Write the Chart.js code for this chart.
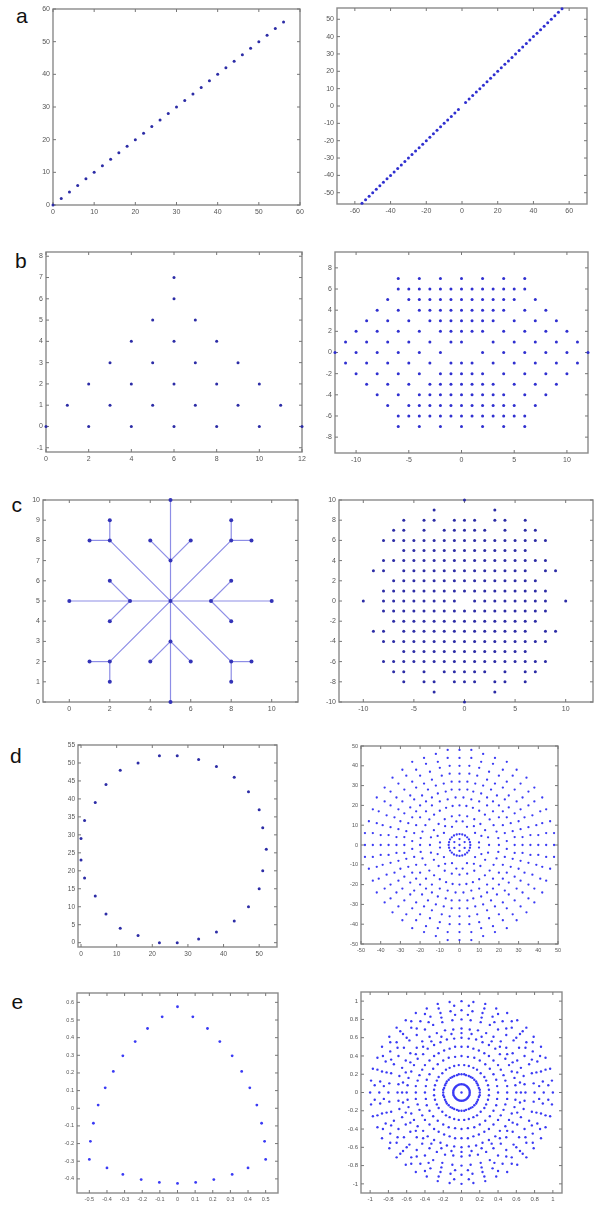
<!DOCTYPE html>
<html><head><meta charset="utf-8">
<script src="https://cdn.jsdelivr.net/npm/chart.js@4.4.0/dist/chart.umd.min.js"></script>
<style>
html,body{margin:0;padding:0;background:#fff;width:601px;height:1205px;overflow:hidden;position:relative;font-family:"Liberation Sans",Arial,sans-serif}
.lbl{position:absolute;font-size:21px;line-height:21px;color:#111}
</style></head><body>
<div class="lbl" style="left:16px;top:5px">a</div>
<div class="lbl" style="left:15px;top:250px">b</div>
<div class="lbl" style="left:11.5px;top:494px">c</div>
<div class="lbl" style="left:10px;top:745px">d</div>
<div class="lbl" style="left:11.5px;top:991px">e</div>
<script>
// ---------- data ----------
const aLeftX = [0,2,4,6,8,10,12,14,16,18,20,22,24,26,28,30,32,34,36,38,40,42,44,46,48,50,52,54,56];
const aLeftY = [0,2,4,6,8,10,12,14,16,18,20,22,24,26,28,30,32,34,36,38,40,42,44,46,48,50,52,54,56];
const aRightX = [-56,-54,-52,-50,-48,-46,-44,-42,-40,-38,-36,-34,-32,-30,-28,-26,-24,-22,-20,-18,-16,-14,-12,-10,-8,-6,-4,-2,2,4,6,8,10,12,14,16,18,20,22,24,26,28,30,32,34,36,38,40,42,44,46,48,50,52,54,56];
const aRightY = [-56,-54,-52,-50,-48,-46,-44,-42,-40,-38,-36,-34,-32,-30,-28,-26,-24,-22,-20,-18,-16,-14,-12,-10,-8,-6,-4,-2,2,4,6,8,10,12,14,16,18,20,22,24,26,28,30,32,34,36,38,40,42,44,46,48,50,52,54,56];

const bLeftX = [0,1,2,2,3,3,4,4,4,5,5,5,6,6,6,6,6,7,7,7,8,8,8,9,9,10,10,11,12];
const bLeftY = [0,1,0,2,1,3,0,2,4,1,3,5,0,2,4,6,7,1,3,5,0,2,4,1,3,0,2,1,0];

const bRightRowY = [7,6,5,4,3,2,1,0,-1,-2,-3,-4,-5,-6,-7];
const bRightRowX = [
 [-6,-4,-2,0,2,4,6],
 [-6,-5,-4,-3,-2,-1,0,1,2,3,4,5,6],
 [-7,-5,-4,-3,-2,-1,0,1,2,3,4,5,7],
 [-8,-6,-4,-3,-2,-1,0,1,2,3,4,6,8],
 [-9,-7,-5,-3,-2,-1,0,1,2,3,5,7,9],
 [-10,-8,-6,-4,-2,-1,0,1,2,4,6,8,10],
 [-11,-9,-7,-5,-3,-1,0,3,5,7,9,11],
 [-12,-10,-8,-6,-4,-2,2,4,6,8,10,12],
 [-11,-9,-7,-5,-3,-1,0,1,3,5,7,9,11],
 [-10,-8,-6,-4,-2,-1,0,1,2,4,6,8,10],
 [-9,-7,-5,-3,-2,-1,0,1,2,3,5,7,9],
 [-8,-6,-4,-3,-2,-1,0,1,2,3,4,6,8],
 [-7,-5,-4,-3,-2,-1,0,1,2,3,4,5,7],
 [-6,-5,-4,-3,-2,-1,0,1,2,3,4,5,6],
 [-6,-4,-2,0,2,4,6]];

const cLeftNodeX = [5,5,5,5,5,0,3,7,10,4,6,4,6,2,2,8,8,2,2,1,8,8,9,2,1,2,8,9,8];
const cLeftNodeY = [10,7,5,3,0,5,5,5,5,8,8,2,2,6,4,6,4,8,9,8,8,9,8,2,2,1,2,2,1];
const cLeftSegs = [
 [5,0,5,10],[0,5,10,5],[2,2,8,8],[2,8,8,2],
 [5,7,4,8],[5,7,6,8],[5,3,4,2],[5,3,6,2],
 [3,5,2,6],[3,5,2,4],[7,5,8,6],[7,5,8,4],
 [2,8,2,9],[2,8,1,8],[8,8,8,9],[8,8,9,8],
 [2,2,1,2],[2,2,2,1],[8,2,9,2],[8,2,8,1]];

const cRightRowY = [10,9,8,7,6,5,4,3,2,1,0,-1,-2,-3,-4,-5,-6,-7,-8,-9,-10];
const cRightRowX = [
 [0],
 [-3,3],
 [-6,-4,-3,-1,0,1,3,4,6],
 [-7,-6,-4,-2,-1,0,1,2,4,6,7],
 [-8,-7,-6,-5,-4,-3,-2,-1,0,1,2,3,4,5,6,7,8],
 [-6,-5,-4,-3,-2,-1,0,1,2,3,4,5,6],
 [-8,-7,-6,-5,-4,-3,-2,-1,0,1,2,3,4,5,6,7,8],
 [-9,-8,-6,-5,-4,-3,-2,-1,0,1,2,3,4,5,6,8,9],
 [-7,-6,-5,-4,-3,-2,-1,0,1,2,3,4,5,6,7],
 [-8,-7,-6,-5,-4,-3,-2,-1,0,1,2,3,4,5,6,7,8],
 [-10,-8,-7,-6,-5,-4,-3,-2,-1,1,2,3,4,5,6,7,8,10],
 [-8,-7,-6,-5,-4,-3,-2,-1,0,1,2,3,4,5,6,7,8],
 [-7,-6,-5,-4,-3,-2,-1,0,1,2,3,4,5,6,7],
 [-9,-8,-6,-5,-4,-3,-2,-1,0,1,2,3,4,5,6,8,9],
 [-8,-7,-6,-5,-4,-3,-2,-1,0,1,2,3,4,5,6,7,8],
 [-6,-5,-4,-3,-2,-1,0,1,2,3,4,5,6],
 [-8,-7,-6,-5,-4,-3,-2,-1,0,1,2,3,4,5,6,7,8],
 [-7,-6,-4,-2,-1,0,1,2,4,6,7],
 [-6,-4,-3,-1,0,1,3,4,6],
 [-3,3],
 [0]];

const dLeftX = [22,27,33,38,43,47,50,51,52,51,50,47,43,38,33,27,22,16,11,7,4,1,0,0,1,4,7,11,16];
const dLeftY = [52,52,51,49,46,42,37,32,26,20,15,10,6,3,1,0,0,2,4,8,13,18,23,29,34,39,44,48,50];

// d right: rings of points, flat x,y pairs
const dRCore = [0,0,2.6,1.5,0,3,-2.6,1.5,-2.6,-1.5,0,-3,2.6,-1.5];
const dR5 = [5.5,0,5.3,1.4,4.8,2.8,3.9,3.9,2.8,4.8,1.4,5.3,0,5.5,-1.4,5.3,-2.8,4.8,-3.9,3.9,-4.8,2.8,-5.3,1.4,-5.5,0,-5.3,-1.4,-4.8,-2.8,-3.9,-3.9,-2.8,-4.8,-1.4,-5.3,0,-5.5,1.4,-5.3,2.8,-4.8,3.9,-3.9,4.8,-2.8,5.3,-1.4];
const dR11 = [9.9,1.3,11.1,4.6,7.9,6.1,7.3,9.5,3.8,9.2,1.6,11.9,
 -1.6,11.9,-3.8,9.2,-7.3,9.5,-7.9,6.1,-11.1,4.6,-9.9,1.3,
 -9.9,-1.3,-11.1,-4.6,-7.9,-6.1,-7.3,-9.5,-3.8,-9.2,-1.6,-11.9,
 1.6,-11.9,3.8,-9.2,7.3,-9.5,7.9,-6.1,11.1,-4.6,9.9,-1.3];
const dR15 = [15,0,14.5,3.9,13,7.5,10.6,10.6,7.5,13,3.9,14.5,
 0,15,-3.9,14.5,-7.5,13,-10.6,10.6,-13,7.5,-14.5,3.9,
 -15,0,-14.5,-3.9,-13,-7.5,-10.6,-10.6,-7.5,-13,-3.9,-14.5,
 0,-15,3.9,-14.5,7.5,-13,10.6,-10.6,13,-7.5,14.5,-3.9];
const dR20 = [20,0,19.7,3.5,18.8,6.8,17.3,10,15.3,12.9,12.9,15.3,10,17.3,6.8,18.8,3.5,19.7,
 0,20,-3.5,19.7,-6.8,18.8,-10,17.3,-12.9,15.3,-15.3,12.9,-17.3,10,-18.8,6.8,-19.7,3.5,
 -20,0,-19.7,-3.5,-18.8,-6.8,-17.3,-10,-15.3,-12.9,-12.9,-15.3,-10,-17.3,-6.8,-18.8,-3.5,-19.7,
 0,-20,3.5,-19.7,6.8,-18.8,10,-17.3,12.9,-15.3,15.3,-12.9,17.3,-10,18.8,-6.8,19.7,-3.5];
const dR24 = [24,2,23,6,22,10,20,14,17,17,14,20,10,22,6,23,2,24,
 -2,24,-6,23,-10,22,-14,20,-17,17,-20,14,-22,10,-23,6,-24,2,
 -24,-2,-23,-6,-22,-10,-20,-14,-17,-17,-14,-20,-10,-22,-6,-23,-2,-24,
 2,-24,6,-23,10,-22,14,-20,17,-17,20,-14,22,-10,23,-6,24,-2];
const dR28 = [28,0,28,4,27,7,26,11,24,14,22,17,20,20,17,22,14,24,11,26,7,27,4,28,
 0,28,-4,28,-7,27,-11,26,-14,24,-17,22,-20,20,-22,17,-24,14,-26,11,-27,7,-28,4,
 -28,0,-28,-4,-27,-7,-26,-11,-24,-14,-22,-17,-20,-20,-17,-22,-14,-24,-11,-26,-7,-27,-4,-28,
 0,-28,4,-28,7,-27,11,-26,14,-24,17,-22,20,-20,22,-17,24,-14,26,-11,27,-7,28,-4];
const dR32 = [32,0,32,4,31,8,30,12,28,16,25,19,23,23,19,25,16,28,12,30,8,31,4,32,
 0,32,-4,32,-8,31,-12,30,-16,28,-19,25,-23,23,-25,19,-28,16,-30,12,-31,8,-32,4,
 -32,0,-32,-4,-31,-8,-30,-12,-28,-16,-25,-19,-23,-23,-19,-25,-16,-28,-12,-30,-8,-31,-4,-32,
 0,-32,4,-32,8,-31,12,-30,16,-28,19,-25,23,-23,25,-19,28,-16,30,-12,31,-8,32,-4];
const dR36 = [36,0,36,5,35,9,33,14,31,18,29,22,25,25,22,29,18,31,14,33,9,35,5,36,
 0,36,-5,36,-9,35,-14,33,-18,31,-22,29,-25,25,-29,22,-31,18,-33,14,-35,9,-36,5,
 -36,0,-36,-5,-35,-9,-33,-14,-31,-18,-29,-22,-25,-25,-22,-29,-18,-31,-14,-33,-9,-35,-5,-36,
 0,-36,5,-36,9,-35,14,-33,18,-31,22,-29,25,-25,29,-22,31,-18,33,-14,35,-9,36,-5];
const dR40 = [40,0,40,5,39,10,37,15,35,20,32,24,28,28,24,32,20,35,15,37,10,39,5,40,
 0,40,-5,40,-10,39,-15,37,-20,35,-24,32,-28,28,-32,24,-35,20,-37,15,-39,10,-40,5,
 -40,0,-40,-5,-39,-10,-37,-15,-35,-20,-32,-24,-28,-28,-24,-32,-20,-35,-15,-37,-10,-39,-5,-40,
 0,-40,5,-40,10,-39,15,-37,20,-35,24,-32,28,-28,32,-24,35,-20,37,-15,39,-10,40,-5];
const dR44 = [44,0,44,6,42,11,41,17,38,22,35,27,31,31,27,35,22,38,17,41,11,42,6,44,
 0,44,-6,44,-11,42,-17,41,-22,38,-27,35,-31,31,-35,27,-38,22,-41,17,-42,11,-44,6,
 -44,0,-44,-6,-42,-11,-41,-17,-38,-22,-35,-27,-31,-31,-27,-35,-22,-38,-17,-41,-11,-42,-6,-44,
 0,-44,6,-44,11,-42,17,-41,22,-38,27,-35,31,-31,35,-27,38,-22,41,-17,42,-11,44,-6];
const dR48 = [48,0,48,6,46,12,44,18,42,24,38,29,34,34,29,38,24,42,18,44,12,46,6,48,
 0,48,-6,48,-12,46,-18,44,-24,42,-29,38,-34,34,-38,29,-42,24,-44,18,-46,12,-48,6,
 -48,0,-48,-6,-46,-12,-44,-18,-42,-24,-38,-29,-34,-34,-29,-38,-24,-42,-18,-44,-12,-46,-6,-48,
 0,-48,6,-48,12,-46,18,-44,24,-42,29,-38,34,-34,38,-29,42,-24,44,-18,46,-12,48,-6];

const eLeftX = [0,0.087,0.17,0.24,0.31,0.364,0.41,0.45,0.477,0.494,0.5,0.4,0.31,0.206,0.103,0,-0.103,-0.206,-0.31,-0.4,-0.5,-0.494,-0.477,-0.45,-0.41,-0.364,-0.31,-0.24,-0.17,-0.087];
const eLeftY = [0.575,0.518,0.452,0.378,0.297,0.209,0.116,0.018,-0.085,-0.187,-0.29,-0.338,-0.375,-0.404,-0.42,-0.426,-0.42,-0.404,-0.375,-0.338,-0.29,-0.187,-0.085,0.018,0.116,0.209,0.297,0.378,0.452,0.518];

// e right: rings of points, flat x,y pairs
const eRCore = [0,0];
const eR009 = [.09,0,.089,.016,.085,.031,.078,.045,.069,.058,.058,.069,.045,.078,.031,.085,.016,.089,
 0,.09,-.016,.089,-.031,.085,-.045,.078,-.058,.069,-.069,.058,-.078,.045,-.085,.031,-.089,.016,
 -.09,0,-.089,-.016,-.085,-.031,-.078,-.045,-.069,-.058,-.058,-.069,-.045,-.078,-.031,-.085,-.016,-.089,
 0,-.09,.016,-.089,.031,-.085,.045,-.078,.058,-.069,.069,-.058,.078,-.045,.085,-.031,.089,-.016];
const eR020 = [.2,0,.2,.03,.19,.05,.18,.08,.17,.1,.16,.12,.14,.14,.12,.16,.1,.17,.08,.18,.05,.19,.03,.2,
 0,.2,-.03,.2,-.05,.19,-.08,.18,-.1,.17,-.12,.16,-.14,.14,-.16,.12,-.17,.1,-.18,.08,-.19,.05,-.2,.03,
 -.2,0,-.2,-.03,-.19,-.05,-.18,-.08,-.17,-.1,-.16,-.12,-.14,-.14,-.12,-.16,-.1,-.17,-.08,-.18,-.05,-.19,-.03,-.2,
 0,-.2,.03,-.2,.05,-.19,.08,-.18,.1,-.17,.12,-.16,.14,-.14,.16,-.12,.17,-.1,.18,-.08,.19,-.05,.2,-.03];
const eR030 = [.3,.03,.29,.08,.27,.13,.25,.17,.21,.21,.17,.25,.13,.27,.08,.29,.03,.3,
 -.03,.3,-.08,.29,-.13,.27,-.17,.25,-.21,.21,-.25,.17,-.27,.13,-.29,.08,-.3,.03,
 -.3,-.03,-.29,-.08,-.27,-.13,-.25,-.17,-.21,-.21,-.17,-.25,-.13,-.27,-.08,-.29,-.03,-.3,
 .03,-.3,.08,-.29,.13,-.27,.17,-.25,.21,-.21,.25,-.17,.27,-.13,.29,-.08,.3,-.03];
const eR040 = [.4,0,.39,.07,.38,.14,.35,.2,.31,.26,.26,.31,.2,.35,.14,.38,.07,.39,
 0,.4,-.07,.39,-.14,.38,-.2,.35,-.26,.31,-.31,.26,-.35,.2,-.38,.14,-.39,.07,
 -.4,0,-.39,-.07,-.38,-.14,-.35,-.2,-.31,-.26,-.26,-.31,-.2,-.35,-.14,-.38,-.07,-.39,
 0,-.4,.07,-.39,.14,-.38,.2,-.35,.26,-.31,.31,-.26,.35,-.2,.38,-.14,.39,-.07];
const eR050 = [.5,0,.5,.07,.48,.13,.46,.19,.43,.25,.4,.3,.35,.35,.3,.4,.25,.43,.19,.46,.13,.48,.07,.5,
 0,.5,-.07,.5,-.13,.48,-.19,.46,-.25,.43,-.3,.4,-.35,.35,-.4,.3,-.43,.25,-.46,.19,-.48,.13,-.5,.07,
 -.5,0,-.5,-.07,-.48,-.13,-.46,-.19,-.43,-.25,-.4,-.3,-.35,-.35,-.3,-.4,-.25,-.43,-.19,-.46,-.13,-.48,-.07,-.5,
 0,-.5,.07,-.5,.13,-.48,.19,-.46,.25,-.43,.3,-.4,.35,-.35,.4,-.3,.43,-.25,.46,-.19,.48,-.13,.5,-.07];
const eR060 = [.6,0,.59,.08,.58,.16,.55,.23,.52,.3,.48,.37,.42,.42,.37,.48,.3,.52,.23,.55,.16,.58,.08,.59,
 0,.6,-.08,.59,-.16,.58,-.23,.55,-.3,.52,-.37,.48,-.42,.42,-.48,.37,-.52,.3,-.55,.23,-.58,.16,-.59,.08,
 -.6,0,-.59,-.08,-.58,-.16,-.55,-.23,-.52,-.3,-.48,-.37,-.42,-.42,-.37,-.48,-.3,-.52,-.23,-.55,-.16,-.58,-.08,-.59,
 0,-.6,.08,-.59,.16,-.58,.23,-.55,.3,-.52,.37,-.48,.42,-.42,.48,-.37,.52,-.3,.55,-.23,.58,-.16,.59,-.08];
const eR065 = [.65,0,.64,.11,.61,.22,.56,.33,.5,.42,.42,.5,.33,.56,.22,.61,.11,.64,
 0,.65,-.11,.64,-.22,.61,-.33,.56,-.42,.5,-.5,.42,-.56,.33,-.61,.22,-.64,.11,
 -.65,0,-.64,-.11,-.61,-.22,-.56,-.33,-.5,-.42,-.42,-.5,-.33,-.56,-.22,-.61,-.11,-.64,
 0,-.65,.11,-.64,.22,-.61,.33,-.56,.42,-.5,.5,-.42,.56,-.33,.61,-.22,.64,-.11];
const eR070 = [.7,0,.69,.09,.68,.18,.65,.27,.61,.35,.56,.43,.49,.49,.43,.56,.35,.61,.27,.65,.18,.68,.09,.69,
 0,.7,-.09,.69,-.18,.68,-.27,.65,-.35,.61,-.43,.56,-.49,.49,-.56,.43,-.61,.35,-.65,.27,-.68,.18,-.69,.09,
 -.7,0,-.69,-.09,-.68,-.18,-.65,-.27,-.61,-.35,-.56,-.43,-.49,-.49,-.43,-.56,-.35,-.61,-.27,-.65,-.18,-.68,-.09,-.69,
 0,-.7,.09,-.69,.18,-.68,.27,-.65,.35,-.61,.43,-.56,.49,-.49,.56,-.43,.61,-.35,.65,-.27,.68,-.18,.69,-.09];
const eR080 = [.8,0,.79,.1,.77,.21,.74,.31,.69,.4,.63,.49,.57,.57,.49,.63,.4,.69,.31,.74,.21,.77,.1,.79,
 0,.8,-.1,.79,-.21,.77,-.31,.74,-.4,.69,-.49,.63,-.57,.57,-.63,.49,-.69,.4,-.74,.31,-.77,.21,-.79,.1,
 -.8,0,-.79,-.1,-.77,-.21,-.74,-.31,-.69,-.4,-.63,-.49,-.57,-.57,-.49,-.63,-.4,-.69,-.31,-.74,-.21,-.77,-.1,-.79,
 0,-.8,.1,-.79,.21,-.77,.31,-.74,.4,-.69,.49,-.63,.57,-.57,.63,-.49,.69,-.4,.74,-.31,.77,-.21,.79,-.1];
const eR085 = [.85,.07,.82,.22,.77,.36,.7,.49,.6,.6,.49,.7,.36,.77,.22,.82,.07,.85,
 -.07,.85,-.22,.82,-.36,.77,-.49,.7,-.6,.6,-.7,.49,-.77,.36,-.82,.22,-.85,.07,
 -.85,-.07,-.82,-.22,-.77,-.36,-.7,-.49,-.6,-.6,-.49,-.7,-.36,-.77,-.22,-.82,-.07,-.85,
 .07,-.85,.22,-.82,.36,-.77,.49,-.7,.6,-.6,.7,-.49,.77,-.36,.82,-.22,.85,-.07];
const eR090 = [.9,0,.89,.12,.87,.23,.83,.34,.78,.45,.71,.55,.64,.64,.55,.71,.45,.78,.34,.83,.23,.87,.12,.89,
 0,.9,-.12,.89,-.23,.87,-.34,.83,-.45,.78,-.55,.71,-.64,.64,-.71,.55,-.78,.45,-.83,.34,-.87,.23,-.89,.12,
 -.9,0,-.89,-.12,-.87,-.23,-.83,-.34,-.78,-.45,-.71,-.55,-.64,-.64,-.55,-.71,-.45,-.78,-.34,-.83,-.23,-.87,-.12,-.89,
 0,-.9,.12,-.89,.23,-.87,.34,-.83,.45,-.78,.55,-.71,.64,-.64,.71,-.55,.78,-.45,.83,-.34,.87,-.23,.89,-.12];
const eR095 = [.95,.08,.92,.25,.86,.4,.78,.55,.67,.67,.55,.78,.4,.86,.25,.92,.08,.95,
 -.08,.95,-.25,.92,-.4,.86,-.55,.78,-.67,.67,-.78,.55,-.86,.4,-.92,.25,-.95,.08,
 -.95,-.08,-.92,-.25,-.86,-.4,-.78,-.55,-.67,-.67,-.55,-.78,-.4,-.86,-.25,-.92,-.08,-.95,
 .08,-.95,.25,-.92,.4,-.86,.55,-.78,.67,-.67,.78,-.55,.86,-.4,.92,-.25,.95,-.08];
const eR100 = [1,0,.99,.13,.97,.26,.92,.38,.87,.5,.79,.61,.71,.71,.61,.79,.5,.87,.38,.92,.26,.97,.13,.99,
 0,1,-.13,.99,-.26,.97,-.38,.92,-.5,.87,-.61,.79,-.71,.71,-.79,.61,-.87,.5,-.92,.38,-.97,.26,-.99,.13,
 -1,0,-.99,-.13,-.97,-.26,-.92,-.38,-.87,-.5,-.79,-.61,-.71,-.71,-.61,-.79,-.5,-.87,-.38,-.92,-.26,-.97,-.13,-.99,
 0,-1,.13,-.99,.26,-.97,.38,-.92,.5,-.87,.61,-.79,.71,-.71,.79,-.61,.87,-.5,.92,-.38,.97,-.26,.99,-.13];

// tick values
const aLeftTicks = [0,10,20,30,40,50,60];
const aRightXTicks = [-60,-40,-20,0,20,40,60];
const aRightYTicks = [-50,-40,-30,-20,-10,0,10,20,30,40,50];
const bLeftXTicks = [0,2,4,6,8,10,12];
const bLeftYTicks = [-1,0,1,2,3,4,5,6,7,8];
const bRightXTicks = [-10,-5,0,5,10];
const bRightYTicks = [-8,-6,-4,-2,0,2,4,6,8];
const cLeftXTicks = [0,2,4,6,8,10];
const cLeftYTicks = [0,1,2,3,4,5,6,7,8,9,10];
const cRightXTicks = [-10,-5,0,5,10];
const cRightYTicks = [-10,-8,-6,-4,-2,0,2,4,6,8,10];
const dLeftXTicks = [0,10,20,30,40,50];
const dLeftYTicks = [0,5,10,15,20,25,30,35,40,45,50,55];
const dRightTicks = [-50,-40,-30,-20,-10,0,10,20,30,40,50];
const eLeftXTicks = [-0.5,-0.4,-0.3,-0.2,-0.1,0,0.1,0.2,0.3,0.4,0.5];
const eLeftYTicks = [-0.4,-0.3,-0.2,-0.1,0,0.1,0.2,0.3,0.4,0.5,0.6];
const eRightTicks = [-1,-0.8,-0.6,-0.4,-0.2,0,0.2,0.4,0.6,0.8,1];

// ---------- helpers ----------
const zip = (xs, ys) => xs.map((x, i) => ({x, y: ys[i]}));
const pairs = a => { const p = []; for (let i = 0; i < a.length; i += 2) p.push({x: a[i], y: a[i + 1]}); return p; };
const rows = (ys, xs) => { const p = []; ys.forEach((y, i) => xs[i].forEach(x => p.push({x, y}))); return p; };

const DARK = '#2c2ca6', BRIGHT = '#3a3af5';

const boxPlugin = {
  id: 'matBox',
  beforeDatasetsDraw(chart) {
    const {ctx, chartArea: a, scales: {x, y}} = chart;
    ctx.save();
    ctx.strokeStyle = '#8a8a8a';
    ctx.lineWidth = 1.4;
    ctx.strokeRect(a.left, a.top, a.right - a.left, a.bottom - a.top);
    ctx.lineWidth = 1;
    ctx.strokeStyle = '#777';
    ctx.beginPath();
    x.ticks.forEach(t => { const p = x.getPixelForValue(t.value);
      ctx.moveTo(p, a.bottom); ctx.lineTo(p, a.bottom - 3); ctx.moveTo(p, a.top); ctx.lineTo(p, a.top + 3); });
    y.ticks.forEach(t => { const p = y.getPixelForValue(t.value);
      ctx.moveTo(a.left, p); ctx.lineTo(a.left + 3, p); ctx.moveTo(a.right, p); ctx.lineTo(a.right - 3, p); });
    ctx.stroke();
    ctx.restore();
  }
};

function axis(min, max, ticks, fs, isX, size) {
  return {
    type: 'linear', min, max,
    afterBuildTicks: s => { s.ticks = ticks.map(v => ({value: v})); },
    afterFit: s => {
      if (isX) s.height = size; else s.width = size;
      s.paddingLeft = 0; s.paddingRight = 0; s.paddingTop = 0; s.paddingBottom = 0;
    },
    grid: {display: false, drawTicks: false},
    border: {display: false},
    ticks: {font: {size: fs, family: 'Liberation Sans'}, color: '#555', padding: 3,
      autoSkip: false, maxRotation: 0, minRotation: 0, callback: v => String(v)}
  };
}

function panel(box, xr, yr, xt, yt, fs, datasets) {
  const padL = 28, padB = 16, padT = 8, padR = 12;
  const w = box[2] - box[0], h = box[3] - box[1];
  const cv = document.createElement('canvas');
  cv.width = w + padL + padR; cv.height = h + padT + padB;
  cv.style.cssText = `position:absolute;left:${box[0] - padL}px;top:${box[1] - padT}px;width:${cv.width}px;height:${cv.height}px`;
  document.body.appendChild(cv);
  new Chart(cv, {
    type: 'scatter',
    data: {datasets},
    options: {
      responsive: false, animation: false, devicePixelRatio: 1,
      layout: {padding: {left: 0, top: padT, right: padR, bottom: 0}},
      plugins: {legend: {display: false}, tooltip: {enabled: false}},
      scales: {x: axis(xr[0], xr[1], xt, fs, true, padB), y: axis(yr[0], yr[1], yt, fs, false, padL)}
    },
    plugins: [boxPlugin]
  });
}
const dots = (data, color, r) => ({data, pointRadius: r, pointBackgroundColor: color, pointBorderWidth: 0, pointHoverRadius: r, showLine: false, clip: 4});

// ---------- panels ----------
panel([53, 9, 300, 205], [0, 60], [0, 60], aLeftTicks, aLeftTicks, 7,
  [dots(zip(aLeftX, aLeftY), DARK, 1.5)]);
panel([337, 8, 587, 204], [-70, 70], [-56.5, 56.5], aRightXTicks, aRightYTicks, 7,
  [dots(zip(aRightX, aRightY), '#2f2fd0', 1.5)]);
panel([46, 252, 302, 452], [0, 12], [-1.2, 8.2], bLeftXTicks, bLeftYTicks, 7,
  [dots(zip(bLeftX, bLeftY), DARK, 1.5)]);
panel([335, 252, 588, 453], [-12, 12], [-9.5, 9.5], bRightXTicks, bRightYTicks, 7,
  [dots(rows(bRightRowY, bRightRowX), '#2f2fd0', 1.5)]);

const cSegSets = cLeftSegs.map(s => ({data: [{x: s[0], y: s[1]}, {x: s[2], y: s[3]}], showLine: true,
  borderColor: '#8d8de6', borderWidth: 1.2, pointRadius: 0, clip: 4}));
panel([43, 500, 298, 702], [-1.3, 11.3], [0, 10], cLeftXTicks, cLeftYTicks, 7,
  [dots(zip(cLeftNodeX, cLeftNodeY), '#3434b8', 2), ...cSegSets]);
panel([339, 500, 593, 702], [-12.4, 12.7], [-10, 10], cRightXTicks, cRightYTicks, 7,
  [dots(rows(cRightRowY, cRightRowX), DARK, 1.5)]);

panel([78, 745, 277, 947], [-0.85, 55], [-1.2, 55], dLeftXTicks, dLeftYTicks, 6.5,
  [dots(zip(dLeftX, dLeftY), DARK, 1.5)]);
const dRightPts = [dRCore, dR5, dR11, dR15, dR20, dR24, dR28, dR32, dR36, dR40, dR44, dR48].flatMap(pairs);
panel([361, 746, 558, 944], [-50, 50], [-50, 50], dRightTicks, dRightTicks, 5.5,
  [dots(dRightPts, BRIGHT, 1.15)]);

panel([77, 993, 278, 1193], [-0.57, 0.57], [-0.48, 0.653], eLeftXTicks, eLeftYTicks, 5.5,
  [dots(zip(eLeftX, eLeftY), BRIGHT, 1.4)]);
const eRightPts = [eRCore, eR009, eR020, eR030, eR040, eR050, eR060, eR065, eR070, eR080, eR085, eR090, eR095, eR100].flatMap(pairs);
panel([361, 992, 562, 1193], [-1.1, 1.1], [-1.1, 1.1], eRightTicks, eRightTicks, 6,
  [dots(eRightPts, BRIGHT, 1.2)]);
</script>
</body></html>
